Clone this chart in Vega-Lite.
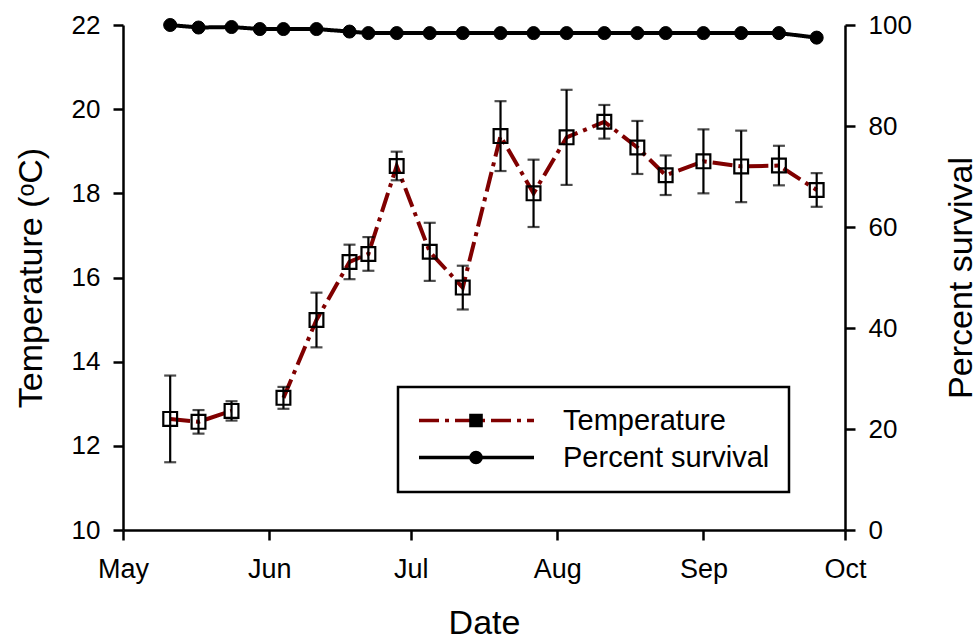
{
  "$schema": "https://vega.github.io/schema/vega-lite/v6.json",
  "autosize": {"type": "none"},
  "padding": {"left": 123, "top": 25, "right": 132, "bottom": 109},
  "width": 722,
  "height": 505,
  "background": "white",
  "config": {
    "font": "Liberation Sans",
    "view": {"stroke": null},
    "legend": {"strokeWidth": 2.5},
    "axis": {
      "grid": false,
      "domainColor": "black",
      "domainWidth": 2.5,
      "tickColor": "black",
      "tickWidth": 2.5,
      "tickSize": 10,
      "labelColor": "black",
      "labelFont": "Liberation Sans",
      "labelFontSize": 26,
      "titleColor": "black",
      "titleFont": "Liberation Sans",
      "titleFontSize": 34,
      "titleFontWeight": "normal"
    }
  },
  "datasets": {
    "temp": [
      {"date": "2009-05-11", "temp": 12.64, "err": 1.03, "series": "Temperature", "marker": "Temperature"},
      {"date": "2009-05-17", "temp": 12.57, "err": 0.28, "series": "Temperature", "marker": "Temperature"},
      {"date": "2009-05-24", "temp": 12.83, "err": 0.23, "series": "Temperature", "marker": "Temperature"},
      {"date": "2009-05-30", "temp": null, "err": null, "series": "Temperature", "marker": "Temperature"},
      {"date": "2009-06-04", "temp": 13.14, "err": 0.26, "series": "Temperature", "marker": "Temperature"},
      {"date": "2009-06-11", "temp": 14.99, "err": 0.65, "series": "Temperature", "marker": "Temperature"},
      {"date": "2009-06-18", "temp": 16.37, "err": 0.41, "series": "Temperature", "marker": "Temperature"},
      {"date": "2009-06-22", "temp": 16.56, "err": 0.40, "series": "Temperature", "marker": "Temperature"},
      {"date": "2009-06-28", "temp": 18.65, "err": 0.34, "series": "Temperature", "marker": "Temperature"},
      {"date": "2009-07-05", "temp": 16.61, "err": 0.69, "series": "Temperature", "marker": "Temperature"},
      {"date": "2009-07-12", "temp": 15.76, "err": 0.52, "series": "Temperature", "marker": "Temperature"},
      {"date": "2009-07-20", "temp": 19.36, "err": 0.83, "series": "Temperature", "marker": "Temperature"},
      {"date": "2009-07-27", "temp": 18.00, "err": 0.80, "series": "Temperature", "marker": "Temperature"},
      {"date": "2009-08-03", "temp": 19.33, "err": 1.13, "series": "Temperature", "marker": "Temperature"},
      {"date": "2009-08-11", "temp": 19.70, "err": 0.40, "series": "Temperature", "marker": "Temperature"},
      {"date": "2009-08-18", "temp": 19.09, "err": 0.63, "series": "Temperature", "marker": "Temperature"},
      {"date": "2009-08-24", "temp": 18.43, "err": 0.47, "series": "Temperature", "marker": "Temperature"},
      {"date": "2009-09-01", "temp": 18.76, "err": 0.76, "series": "Temperature", "marker": "Temperature"},
      {"date": "2009-09-09", "temp": 18.64, "err": 0.85, "series": "Temperature", "marker": "Temperature"},
      {"date": "2009-09-17", "temp": 18.66, "err": 0.47, "series": "Temperature", "marker": "Temperature"},
      {"date": "2009-09-25", "temp": 18.08, "err": 0.40, "series": "Temperature", "marker": "Temperature"}
    ],
    "surv": [
      {"date": "2009-05-11", "survival": 100.0, "series": "Percent survival", "marker": "Percent survival"},
      {"date": "2009-05-17", "survival": 99.5, "series": "Percent survival", "marker": "Percent survival"},
      {"date": "2009-05-24", "survival": 99.6, "series": "Percent survival", "marker": "Percent survival"},
      {"date": "2009-05-30", "survival": 99.2, "series": "Percent survival", "marker": "Percent survival"},
      {"date": "2009-06-04", "survival": 99.2, "series": "Percent survival", "marker": "Percent survival"},
      {"date": "2009-06-11", "survival": 99.2, "series": "Percent survival", "marker": "Percent survival"},
      {"date": "2009-06-18", "survival": 98.7, "series": "Percent survival", "marker": "Percent survival"},
      {"date": "2009-06-22", "survival": 98.4, "series": "Percent survival", "marker": "Percent survival"},
      {"date": "2009-06-28", "survival": 98.4, "series": "Percent survival", "marker": "Percent survival"},
      {"date": "2009-07-05", "survival": 98.4, "series": "Percent survival", "marker": "Percent survival"},
      {"date": "2009-07-12", "survival": 98.4, "series": "Percent survival", "marker": "Percent survival"},
      {"date": "2009-07-20", "survival": 98.4, "series": "Percent survival", "marker": "Percent survival"},
      {"date": "2009-07-27", "survival": 98.4, "series": "Percent survival", "marker": "Percent survival"},
      {"date": "2009-08-03", "survival": 98.4, "series": "Percent survival", "marker": "Percent survival"},
      {"date": "2009-08-11", "survival": 98.4, "series": "Percent survival", "marker": "Percent survival"},
      {"date": "2009-08-18", "survival": 98.4, "series": "Percent survival", "marker": "Percent survival"},
      {"date": "2009-08-24", "survival": 98.4, "series": "Percent survival", "marker": "Percent survival"},
      {"date": "2009-09-01", "survival": 98.4, "series": "Percent survival", "marker": "Percent survival"},
      {"date": "2009-09-09", "survival": 98.4, "series": "Percent survival", "marker": "Percent survival"},
      {"date": "2009-09-17", "survival": 98.4, "series": "Percent survival", "marker": "Percent survival"},
      {"date": "2009-09-25", "survival": 97.5, "series": "Percent survival", "marker": "Percent survival"}
    ]
  },
  "encoding": {
    "x": {
      "field": "date",
      "type": "temporal",
      "scale": {
        "type": "utc",
        "domain": [
          {"year": 2009, "month": 5, "date": 1, "utc": true},
          {"year": 2009, "month": 10, "date": 1, "utc": true}
        ]
      },
      "axis": {
        "title": "Date",
        "values": [
          {"year": 2009, "month": 5, "date": 1, "utc": true},
          {"year": 2009, "month": 6, "date": 1, "utc": true},
          {"year": 2009, "month": 7, "date": 1, "utc": true},
          {"year": 2009, "month": 8, "date": 1, "utc": true},
          {"year": 2009, "month": 9, "date": 1, "utc": true},
          {"year": 2009, "month": 10, "date": 1, "utc": true}
        ],
        "labelExpr": "utcFormat(datum.value, '%b')",
        "labelPadding": 16,
        "labelFontSize": 27,
        "labelFlush": false,
        "labelOverlap": false,
        "titleY": 103,
        "titleBaseline": "alphabetic"
      }
    }
  },
  "layer": [
    {
      "data": {"name": "temp"},
      "encoding": {
        "y": {
          "field": "temp",
          "type": "quantitative",
          "scale": {"domain": [10, 22], "zero": false, "nice": false},
          "axis": {
            "title": "Temperature (ᵒC)",
            "values": [10, 12, 14, 16, 18, 20, 22],
            "labelPadding": 13,
            "titleX": -82,
            "titleAngle": 270,
            "titleBaseline": "alphabetic"
          }
        }
      },
      "layer": [
        {
          "mark": {"type": "line", "strokeWidth": 4, "strokeCap": "butt"},
          "encoding": {
            "color": {
              "field": "series",
              "type": "nominal",
              "scale": {"domain": ["Temperature", "Percent survival"], "range": ["#800000", "black"]},
              "legend": {
                "orient": "none", "legendX": 275, "legendY": 362, "title": null,
                "padding": 19, "rowPadding": 7, "clipHeight": 29, "labelFontSize": 29, "labelOffset": 27,
                "labelLimit": 400, "labelColor": "black", "labelFont": "Liberation Sans",
                "symbolType": "stroke", "symbolSize": 13225, "symbolStrokeWidth": 3.5,
                "strokeColor": "black", "fillColor": "white"
              }
            },
            "strokeDash": {
              "field": "series",
              "type": "nominal",
              "scale": {"domain": ["Temperature", "Percent survival"], "range": [[20, 6, 4, 6], [1, 0]]},
              "legend": {
                "orient": "none", "legendX": 275, "legendY": 362, "title": null,
                "padding": 19, "rowPadding": 7, "clipHeight": 29, "labelFontSize": 29, "labelOffset": 27,
                "labelLimit": 400, "labelColor": "black", "labelFont": "Liberation Sans",
                "symbolType": "stroke", "symbolSize": 13225, "symbolStrokeWidth": 3.5,
                "strokeColor": "black", "fillColor": "white"
              }
            }
          }
        },
        {
          "transform": [{"filter": "datum.temp != null"}],
          "mark": {"type": "errorbar", "ticks": {"thickness": 2.2}, "size": 12, "thickness": 2.2, "color": "black"},
          "encoding": {"yError": {"field": "err"}}
        },
        {
          "transform": [{"filter": "datum.temp != null"}],
          "mark": {"type": "point", "size": 190, "stroke": "black", "strokeWidth": 2.2, "opacity": 1},
          "encoding": {
            "shape": {
              "field": "marker",
              "type": "nominal",
              "sort": ["Temperature", "Percent survival"],
              "scale": {"range": ["square", "circle"]},
              "legend": {
                "orient": "none", "legendX": 319.5, "legendY": 362, "title": null,
                "padding": 19, "rowPadding": 7, "clipHeight": 29, "labelFontSize": 29, "labelExpr": "''",
                "symbolSize": 185, "symbolStrokeColor": "black", "symbolStrokeWidth": 2, "symbolOpacity": 1,
                "encode": {
                  "symbols": {
                    "fill": {"value": {"expr": "datum.value === 'Temperature' ? 'transparent' : 'black'"}},
                    "stroke": {"value": "black"},
                    "strokeWidth": {"value": {"expr": "datum.value === 'Temperature' ? 2.2 : 1"}}
                  }
                }
              }
            },
            "fill": {
              "field": "marker",
              "type": "nominal",
              "sort": ["Temperature", "Percent survival"],
              "scale": {"range": ["transparent", "black"]},
              "legend": null
            }
          }
        }
      ]
    },
    {
      "data": {"name": "surv"},
      "encoding": {
        "y": {
          "field": "survival",
          "type": "quantitative",
          "scale": {"domain": [0, 100], "nice": false},
          "axis": {
            "orient": "right",
            "title": "Percent survival",
            "values": [0, 20, 40, 60, 80, 100],
            "labelPadding": 13,
            "titleX": 126,
            "titleAngle": 270,
            "titleBaseline": "alphabetic"
          }
        }
      },
      "layer": [
        {
          "mark": {"type": "line", "strokeWidth": 4},
          "encoding": {
            "color": {"field": "series", "type": "nominal"},
            "strokeDash": {"field": "series", "type": "nominal"}
          }
        },
        {
          "mark": {"type": "point", "size": 170, "stroke": "black", "strokeWidth": 1, "opacity": 1},
          "encoding": {
            "shape": {"field": "marker", "type": "nominal", "sort": ["Temperature", "Percent survival"]},
            "fill": {"field": "marker", "type": "nominal", "sort": ["Temperature", "Percent survival"], "legend": null}
          }
        }
      ]
    }
  ],
  "resolve": {"scale": {"y": "independent"}}
}
